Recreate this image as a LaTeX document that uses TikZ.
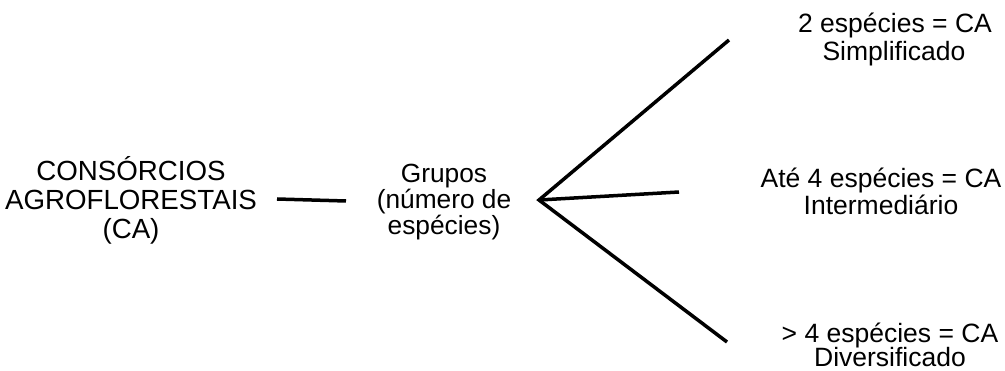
\documentclass[tikz,border=0pt]{standalone}
\usepackage{fontspec}
\setmainfont{Liberation Sans}
\begin{document}
\begin{tikzpicture}[x=1pt,y=1pt,
  lbl/.style={anchor=base,inner sep=0pt},
  big/.style={lbl,font=\fontsize{27.7}{29.5}\selectfont},
  mid/.style={lbl,font=\fontsize{26.3}{27}\selectfont},
  side/.style={lbl,font=\fontsize{26.5}{27.5}\selectfont},
  conn/.style={line width=3.5pt,black}]
\useasboundingbox (0,0) rectangle (1005,370);
% left block
\node[big] (ca1) at (131,189) {CONSÓRCIOS};
\node[big] (ca2) at (131,160) {AGROFLORESTAIS};
\node[big] (ca3) at (131,131) {(CA)};
% middle block
\node[mid] (gr1) at (444,187) {Grupos};
\node[mid] (gr2) at (444,161) {(número de};
\node[mid] (gr3) at (444,135) {espécies)};
% right blocks
\node[side] (s1a) at (895,337) {2 espécies = CA};
\node[side] (s1b) at (894,309) {Simplificado};
\node[side] (s2a) at (881,182) {Até 4 espécies = CA};
\node[side] (s2b) at (881,155) {Intermediário};
\node[side] (s3a) at (890,28) {> 4 espécies = CA};
\node[side] (s3b) at (890,3.5) {Diversificado};
% connectors
\coordinate (l1) at (277,171);
\coordinate (l2) at (346,169);
\coordinate (b) at (539,170);
\coordinate (t1) at (729,330);
\coordinate (t2) at (679,178);
\coordinate (t3) at (727,28);
\draw[conn] (l1) -- (l2);
\draw[conn] (t1) -- (b) -- (t3);
\draw[conn] (b) -- (t2);
\end{tikzpicture}
\end{document}
